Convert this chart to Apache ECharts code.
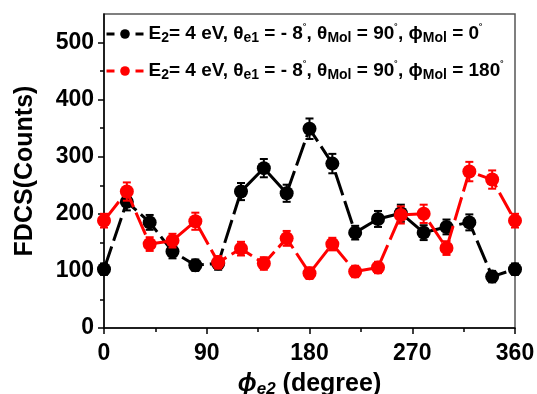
<!DOCTYPE html>
<html>
<head>
<meta charset="utf-8">
<script src="https://cdn.jsdelivr.net/npm/echarts@6/dist/echarts.min.js"></script>
<style>
  html, body { margin: 0; padding: 0; background: #fff; }
  #chart { width: 537px; height: 394px; }
</style>
</head>
<body>
<div id="chart"></div>
<script>
// phi_e2 angles (degree)
const phi = [0, 20, 40, 60, 80, 100, 120, 140, 160, 180, 200, 220, 240, 260, 280, 300, 320, 340, 360];
// phi_Mol = 0
const black = [103, 221, 185, 134, 110, 113, 239, 280, 236, 349, 288, 167, 191, 201, 167, 177, 185, 90, 103];
const blackErr = [10, 15, 13, 12, 10, 11, 15, 16, 15, 18, 17, 12, 14, 15, 13, 13, 14, 10, 10];
// phi_Mol = 180
const red = [188, 239, 147, 153, 187, 115, 139, 113, 157, 96, 147, 99, 106, 198, 200, 140, 274, 260, 188];
const redErr = [12, 16, 12, 12, 15, 11, 12, 11, 13, 10, 11, 10, 10, 15, 16, 12, 17, 16, 12];

const xTicks = [0, 90, 180, 270, 360];
const yTicks = [0, 100, 200, 300, 400, 500];
const yMinor = [50, 150, 250, 350, 450];

const FONT = "Arial, 'Liberation Sans', sans-serif";

const chart = echarts.init(document.getElementById("chart"));

const errSeries = (name, vals, errs, color, z) => ({
  name: name,
  type: "custom",
  z: z,
  silent: true,
  data: phi.map((p, i) => [p, vals[i] - errs[i], vals[i] + errs[i]]),
  renderItem: function (params, api) {
    const lo = api.coord([api.value(0), api.value(1)]);
    const hi = api.coord([api.value(0), api.value(2)]);
    const w = 4;
    const st = { stroke: color, lineWidth: 2 };
    return {
      type: "group",
      children: [
        { type: "line", shape: { x1: lo[0], y1: lo[1], x2: hi[0], y2: hi[1] }, style: st },
        { type: "line", shape: { x1: lo[0] - w, y1: lo[1], x2: lo[0] + w, y2: lo[1] }, style: st },
        { type: "line", shape: { x1: hi[0] - w, y1: hi[1], x2: hi[0] + w, y2: hi[1] }, style: st },
      ],
    };
  },
});

const lineSeries = (name, vals, color, z) => ({
  name: name,
  type: "line",
  z: z,
  data: phi.map((p, i) => [p, vals[i]]),
  symbol: "circle",
  symbolSize: 14,
  itemStyle: { color: color },
  lineStyle: { color: color, width: 3, type: [24, 6] },
});

const rich = {
  b: { fontFamily: FONT, fontWeight: "bold", fontSize: 19, color: "#000" },
  s: { fontFamily: FONT, fontWeight: "bold", fontSize: 14, color: "#000", padding: [9, 0, 0, 0] },
  d: { fontFamily: FONT, fontWeight: "bold", fontSize: 11, color: "#000", padding: [0, 0, 11, 0] },
};
const legendText = (phiMol) =>
  "{b|E}{s|2}{b|= 4 eV, θ}{s|e1}{b| = - 8}{d|˚}{b|, θ}{s|Mol}{b| = 90}{d|˚}{b|, ϕ}{s|Mol}{b| = " +
  phiMol + "}{d|˚}";

const option = {
  animation: false,
  backgroundColor: "#fff",
  grid: {
    left: 104, right: 22, top: 14, bottom: 66,
    outerBoundsMode: "none",
    containLabel: false,
    show: true, borderColor: "#555", borderWidth: 1.5,
  },
  legend: {
    orient: "vertical",
    left: 105,
    top: 21,
    padding: 0,
    itemWidth: 37,
    itemHeight: 12,
    itemGap: 11,
    data: ["m0", "m180"],
    lineStyle: { width: 3, type: [8, 21] },
    formatter: (n) => (n === "m0" ? legendText("0") : legendText("180")),
    textStyle: { rich: rich, lineHeight: 26, padding: [0, 0, 0, 0] },
  },
  xAxis: {
    type: "value",
    min: 0, max: 360, interval: 90,
    axisLine: { lineStyle: { color: "#000", width: 1.5 } },
    axisTick: { inside: false, length: 6, lineStyle: { color: "#000", width: 1.5 } },
    minorTick: { show: true, splitNumber: 2, length: 4, lineStyle: { color: "#000", width: 1.5 } },
    splitLine: { show: false },
    axisLabel: {
      margin: 14, color: "#000", fontFamily: FONT, fontWeight: "bold", fontSize: 23,
      customValues: xTicks,
    },
    name: "{i|ϕ}{s|e2}{b| (degree)}",
    nameLocation: "middle",
    nameGap: 42,
    nameTextStyle: {
      rich: {
        i: { fontFamily: FONT, fontWeight: "bold", fontStyle: "italic", fontSize: 25, color: "#000" },
        s: { fontFamily: FONT, fontWeight: "bold", fontStyle: "italic", fontSize: 17, color: "#000", padding: [11, 0, 0, 0] },
        b: { fontFamily: FONT, fontWeight: "bold", fontSize: 25, color: "#000" },
      },
    },
  },
  yAxis: [
    {
      type: "value",
      min: 0, max: 550,
      axisLine: { lineStyle: { color: "#000", width: 1.5 } },
      axisTick: { inside: false, length: 6, customValues: yTicks, lineStyle: { color: "#000", width: 1.5 } },
      splitLine: { show: false },
      axisLabel: {
        margin: 10, color: "#000", fontFamily: FONT, fontWeight: "bold", fontSize: 23,
        customValues: yTicks,
      },
      name: "FDCS(Counts)",
      nameLocation: "middle",
      nameGap: 66,
      nameTextStyle: { color: "#000", fontFamily: FONT, fontWeight: "bold", fontSize: 25 },
    },
    {
      type: "value",
      min: 0, max: 550,
      position: "left",
      axisLine: { show: false },
      axisTick: { inside: false, length: 4, customValues: yMinor, lineStyle: { color: "#000", width: 1.5 } },
      axisLabel: { show: false },
      splitLine: { show: false },
    },
  ],
  series: [
    errSeries("m0err", black, blackErr, "#000", 2),
    lineSeries("m0", black, "#000", 3),
    errSeries("m180err", red, redErr, "#ff0000", 4),
    lineSeries("m180", red, "#ff0000", 5),
  ],
};

chart.setOption(option);
</script>
</body>
</html>
